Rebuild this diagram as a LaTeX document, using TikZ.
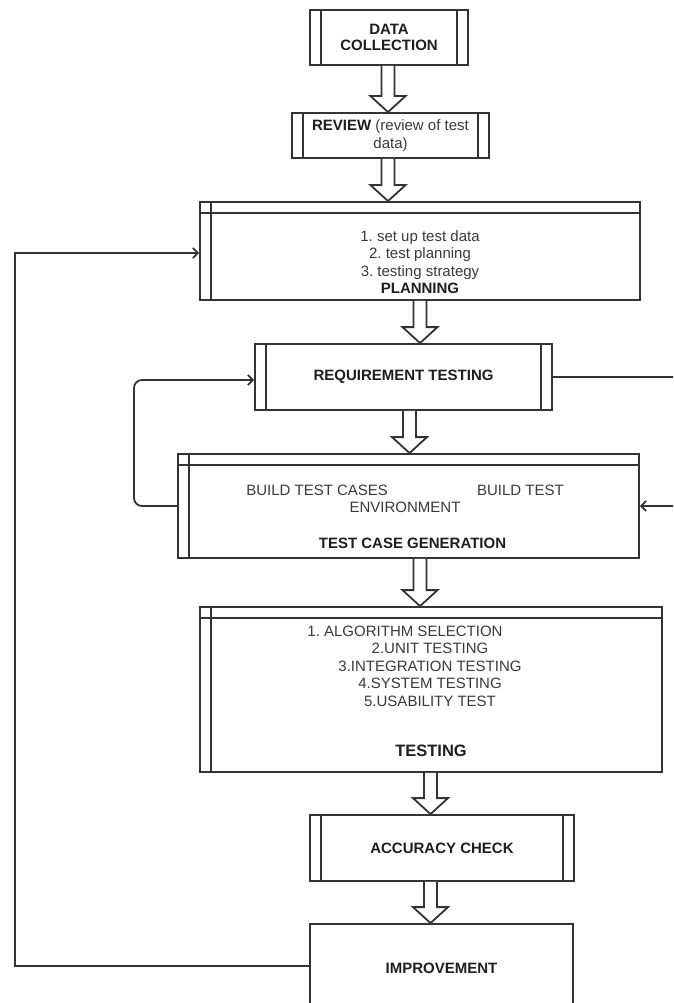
\documentclass[tikz,border=0pt]{standalone}
\usepackage{fontspec}
\setmainfont{Liberation Sans}
\frenchspacing
\usetikzlibrary{arrows.meta,calc}
\definecolor{lc}{HTML}{333333}
\definecolor{tc}{HTML}{3A3A3A}
\definecolor{bc}{HTML}{1E1E1E}
\newcommand\hollowarrow[3]{%
  \draw[blockarr] let \p1=(#2.south), \p2=(#3.north) in
   ({#1pt-6.5pt},\y1) -- ({#1pt-6.5pt},{\y2+16pt}) -- ({#1pt-17.5pt},{\y2+16pt})
   -- ({#1pt},\y2) -- ({#1pt+17.5pt},{\y2+16pt}) -- ({#1pt+6.5pt},{\y2+16pt})
   -- ({#1pt+6.5pt},\y1);}
\begin{document}
\begin{tikzpicture}[x=1pt,y=-1pt,
  box/.style={draw=lc, line width=1.8pt, fill=white, inner sep=0pt, text=bc,
    font=\bfseries\fontsize{15}{16.5}\selectfont, align=center},
  sidebars/.style={path picture={\draw[draw=lc, line width=1.8pt]
    ([xshift=11pt]path picture bounding box.north west) -- ([xshift=11pt]path picture bounding box.south west)
    ([xshift=-11pt]path picture bounding box.north east) -- ([xshift=-11pt]path picture bounding box.south east);}},
  storage/.style={path picture={\draw[draw=lc, line width=1.8pt]
    ([xshift=11pt]path picture bounding box.north west) -- ([xshift=11pt]path picture bounding box.south west)
    ([yshift=-11pt]path picture bounding box.north west) -- ([yshift=-11pt]path picture bounding box.north east);}},
  txt/.style={text=tc, font=\fontsize{15}{17.5}\selectfont, align=center, inner sep=0pt},
  ttl/.style={text=bc, font=\bfseries\fontsize{15}{17}\selectfont, inner sep=0pt},
  blockarr/.style={draw=lc, line width=1.8pt, fill=white, line join=miter},
  conn/.style={draw=lc, line width=1.8pt},
  tip/.style={-{Straight Barb[length=5pt,width=10pt]}}]
\useasboundingbox (0,0) rectangle (673,1003);
\clip (0,0) rectangle (673,1003);
\coordinate (lbus) at (15,0);
\coordinate (lloop) at (134,0);
\coordinate (redge) at (676,0);

\node[box, sidebars, minimum width=158pt, minimum height=55pt] (data) at (389,37.5) {DATA\\COLLECTION};
\node[box, sidebars, font=\fontsize{15}{18}\selectfont, text=tc, minimum width=197pt, minimum height=45pt] (review) at (390.5,135.5) {\textcolor{bc}{\textbf{REVIEW}} (review of test\\data)};
\node[box, storage, minimum width=440pt, minimum height=98pt] (plan) at (420,251) {};
\node[txt] (plantext) at (420,262) {1. set up test data\\2. test planning\\3. testing strategy\\\textcolor{bc}{\textbf{PLANNING}}};
\node[box, sidebars, minimum width=297pt, minimum height=66pt] (req) at (403.5,377) {REQUIREMENT TESTING};
\node[box, storage, minimum width=461pt, minimum height=104pt] (tcg) at (408.5,506) {};
\node[txt] (tcgtext) at (405,499) {BUILD TEST CASES\hspace*{89pt}BUILD TEST\\ENVIRONMENT};
\node[ttl] (tcgtitle) at (412.5,543) {TEST CASE GENERATION};
\node[box, storage, minimum width=462pt, minimum height=165pt] (test) at (431,689.5) {};
\node[txt] (testtext) at (430,666) {\hspace*{-50pt}1. ALGORITHM SELECTION\\2.UNIT TESTING\\3.INTEGRATION TESTING\\4.SYSTEM TESTING\\5.USABILITY TEST};
\node[ttl, font=\bfseries\fontsize{16.5}{18}\selectfont] (testtitle) at (431,751) {TESTING};
\node[box, sidebars, minimum width=264pt, minimum height=66pt] (acc) at (442,848) {ACCURACY CHECK};
\node[box, minimum width=263pt, minimum height=88pt] (impr) at (441.5,968) {IMPROVEMENT};

\hollowarrow{388}{data}{review}
\hollowarrow{388}{review}{plan}
\hollowarrow{420}{plan}{req}
\hollowarrow{409.5}{req}{tcg}
\hollowarrow{420}{tcg}{test}
\hollowarrow{430.5}{test}{acc}
\hollowarrow{430.5}{acc}{impr}

\draw[conn, tip] ([yshift=2pt]impr.west) -- ([yshift=2pt]impr.west -| lbus)
  -- ([yshift=-2pt]plan.west -| lbus) -- ([yshift=-2pt]plan.west);
\draw[conn, tip, rounded corners=8pt] (tcg.west) -- (tcg.west -| lloop)
  -- ([yshift=-3pt]req.west -| lloop) -- ([yshift=-3pt]req.west);
\draw[conn] (req.east) -- (req.east -| redge);
\draw[conn, tip] (tcg.east -| redge) -- (tcg.east);
\end{tikzpicture}
\end{document}
